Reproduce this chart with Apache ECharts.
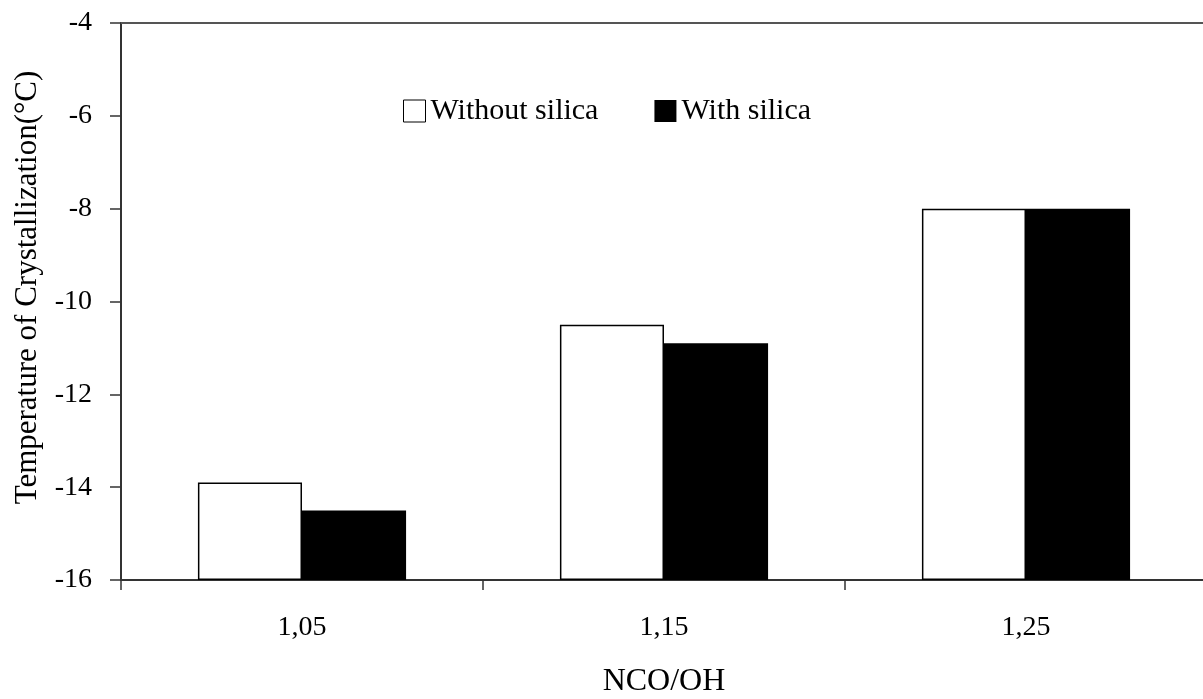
<!DOCTYPE html>
<html><head><meta charset="utf-8">
<script src="https://cdn.jsdelivr.net/npm/echarts@6/dist/echarts.min.js"></script>
<style>html,body{margin:0;padding:0;background:#fff}#c{width:1203px;height:699px}</style>
</head><body><div id="c"></div>
<script>
const categories = ['1,05', '1,15', '1,25'];
const withoutSilica = [-13.9, -10.5, -8.0];
const withSilica = [-14.5, -10.9, -8.0];
const yMin = -16, yMax = -4, yStep = 2;

const FONT = '"Liberation Serif", "DejaVu Serif", serif';
const chart = echarts.init(document.getElementById('c'), null, {renderer: 'canvas'});
chart.setOption({
  animation: false,
  backgroundColor: '#fff',
  textStyle: {fontFamily: FONT, color: '#000'},
  legend: {
    top: 91, left: 398, itemWidth: 22, itemHeight: 22, itemGap: 56,
    textStyle: {fontFamily: FONT, fontSize: 30, color: '#000'},
    data: [
      {name: 'Without silica', icon: 'rect', itemStyle: {color: '#fff', borderColor: '#000', borderWidth: 1}},
      {name: 'With silica', icon: 'rect', itemStyle: {color: '#000'}}
    ]
  },
  grid: {left: 121, top: 23, width: 1086, height: 557, containLabel: false, outerBoundsMode: 'none'},
  xAxis: {
    type: 'category', data: categories,
    name: 'NCO/OH', nameLocation: 'middle', nameGap: 86,
    nameTextStyle: {fontFamily: FONT, fontSize: 32, color: '#000'},
    axisLine: {show: true, lineStyle: {color: '#333', width: 2}},
    axisTick: {show: true, length: 10, lineStyle: {color: '#333', width: 1.5}},
    axisLabel: {fontFamily: FONT, fontSize: 28, color: '#000', margin: 34}
  },
  yAxis: {
    type: 'value', min: yMin, max: yMax, interval: yStep, startValue: yMin,
    name: 'Temperature of Crystallization(°C)', nameLocation: 'middle', nameGap: 78,
    nameTextStyle: {fontFamily: FONT, fontSize: 31, color: '#000', padding: [0, 0, 0, 28]},
    axisLine: {show: true, lineStyle: {color: '#333', width: 2}},
    axisTick: {show: true, length: 11, lineStyle: {color: '#333', width: 1.5}},
    axisLabel: {fontFamily: FONT, fontSize: 28, color: '#000', margin: 29},
    splitLine: {show: false}
  },
  series: [
    {name: 'Without silica', type: 'bar', data: withoutSilica, barGap: '0%', barCategoryGap: '42.5%',
     itemStyle: {color: '#fff', borderColor: '#000', borderWidth: 1.5},
     markLine: {silent: true, symbol: 'none', label: {show: false},
       lineStyle: {color: '#555', width: 2, type: 'solid'}, data: [{yAxis: yMax}]}},
    {name: 'With silica', type: 'bar', data: withSilica,
     itemStyle: {color: '#000'}}
  ]
});
</script></body></html>
